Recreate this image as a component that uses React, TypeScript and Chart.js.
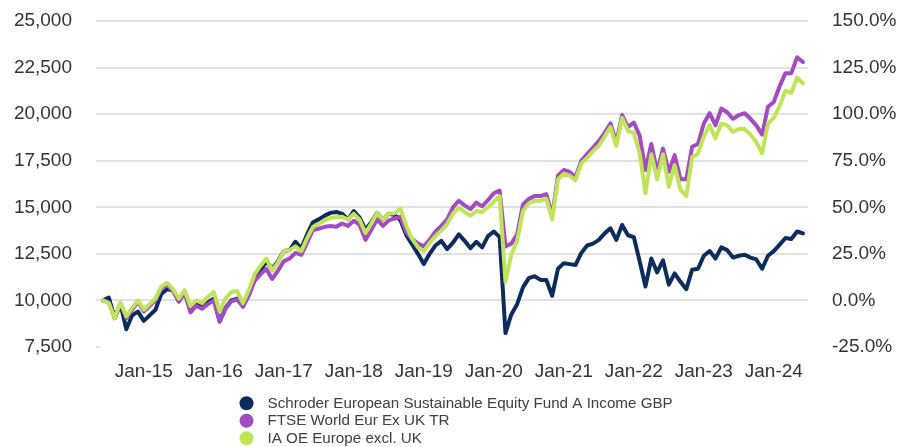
import React, { useEffect, useRef } from "react";
import { Chart, registerables } from "chart.js";

Chart.register(...registerables);

// Month-start labels, Jun-14 .. Jun-24 (value at 1st of month)
const START_YEAR = 2014;
const START_MONTH = 5; // June (0-based)
const MONTH_NAMES = ["Jan", "Feb", "Mar", "Apr", "May", "Jun", "Jul", "Aug", "Sep", "Oct", "Nov", "Dec"];

const tickLabels = ["Jan-15", "Jan-16", "Jan-17", "Jan-18", "Jan-19", "Jan-20", "Jan-21", "Jan-22", "Jan-23", "Jan-24"];

const seriesNames = [
  "Schroder European Sustainable Equity Fund A Income GBP",
  "FTSE World Eur Ex UK TR",
  "IA OE Europe excl. UK",
];

const fundValues = [
  10000, 10150, 9050, 9800, 8450, 9200, 9400, 8900, 9200, 9500,
  10350, 10600, 10550, 9950, 10450, 9500, 9800, 9650, 9900, 10100,
  8870, 9600, 10000, 10100, 9700, 10300, 11150, 11600, 12100, 11700,
  12100, 12650, 12700, 13150, 12800, 13550, 14200, 14350, 14550, 14700,
  14750, 14650, 14350, 14800, 14450, 13800, 14200, 14700, 14350, 14650,
  14580, 14300, 13500, 13000, 12500, 11950, 12500, 12950, 13200, 12750,
  13100, 13550, 13200, 12800, 13150, 12850, 13450, 13700, 13400, 8250,
  9250, 9800, 10700, 11200, 11300, 11100, 11100, 10250, 11700, 12000,
  11950, 11900, 12550, 12950, 13050, 13250, 13600, 13870, 13250, 14050,
  13500, 13400, 12100, 10750, 12250, 11500, 12150, 10850, 11450, 11000,
  10600, 11650, 11700, 12400, 12650, 12250, 12850, 12700, 12300, 12400,
  12450, 12300, 12200, 11700, 12400, 12650, 13000, 13350, 13300, 13700,
  13600,
];

const indexValues = [
  10000, 9900, 9050, 9850, 9050, 9500, 9950, 9400, 9700, 10000,
  10650, 10850, 10500, 9950, 10400, 9350, 9700, 9550, 9800, 10000,
  8870, 9550, 9950, 10050, 9660, 10270, 11050, 11400, 11700, 11150,
  11600, 12100, 12250, 12550, 12450, 13100, 13780, 13850, 13950, 14000,
  13950, 14130, 14000, 14280, 14050, 13250, 13800, 14350, 14000, 14300,
  14400, 14490, 13650, 13300, 13050, 12900, 13250, 13700, 14000, 14350,
  15000, 15350, 15100, 14900, 15250, 15050, 15380, 15750, 15900, 12900,
  13050, 13550, 15150, 15450, 15600, 15600, 15700, 14550, 16700, 17000,
  16900, 16600, 17500, 17850, 18200, 18550, 19000, 19500, 18500, 19950,
  19300, 19550, 18850, 17000, 18400, 16900, 18150, 16900, 17800, 16500,
  16500, 18250, 18400, 19500, 20050, 19400, 20300, 20100, 19750, 19950,
  20050, 19750, 19400, 18900, 20400, 20650, 21500, 22200, 22200, 23050,
  22800,
];

const sectorValues = [
  10000, 9850, 9050, 9900, 9150, 9600, 10000, 9500, 9800, 10100,
  10740, 10950, 10600, 10100, 10550, 9700, 10000, 9850, 10200, 10450,
  9400, 10100, 10450, 10500, 9850, 10560, 11400, 11850, 12250, 11600,
  12050, 12650, 12700, 12900, 12650, 13350, 13950, 14100, 14300, 14430,
  14480, 14490, 14350, 14650, 14330, 13620, 14130, 14700, 14350, 14650,
  14680, 14920, 14000, 13300, 12850, 12650, 13080, 13450, 13750, 14100,
  14650, 14980, 14750, 14550, 14800, 14750, 15000, 15300, 15600, 11000,
  12450, 13200, 14800, 15200, 15350, 15350, 15450, 14350, 16500, 16800,
  16700, 16450, 17350, 17650, 18000, 18300, 18800, 19300, 18300, 19800,
  19100, 19000, 17900, 15750, 17850, 16500, 17850, 16100, 17250, 15950,
  15600, 17700, 17880, 18800, 19400, 18700, 19500, 19400, 19050, 19200,
  19200, 18900, 18500, 17900, 19500, 19800, 20450, 21250, 21150, 21950,
  21650,
];

const leftTicks = [7500, 10000, 12500, 15000, 17500, 20000, 22500, 25000];
const rightTicks = [-25, 0, 25, 50, 75, 100, 125, 150];

const colors = ["#0b2c5c", "#a34bc1", "#c0e458"];

function monthLabel(i: number): string {
  const m = (START_MONTH + i) % 12;
  const y = START_YEAR + Math.floor((START_MONTH + i) / 12);
  return MONTH_NAMES[m] + "-" + String(y).slice(2);
}

const FONT = "'Liberation Sans', Arial, Helvetica, sans-serif";

const fitBox = (size: { width?: number; height?: number }) => (scale: any) => {
  scale.paddingTop = 0;
  scale.paddingBottom = 0;
  scale.paddingLeft = 0;
  scale.paddingRight = 0;
  if (size.width !== undefined) scale.width = size.width;
  if (size.height !== undefined) scale.height = size.height;
};

export default function App() {
  const ref = useRef<HTMLCanvasElement | null>(null);

  useEffect(() => {
    if (!ref.current) return;
    const n = fundValues.length;
    const labels = Array.from({ length: n }, (_, i) => monthLabel(i));
    const toPts = (arr: number[]) => arr.map((v, i) => ({ x: i, y: v }));
    const all = [fundValues, indexValues, sectorValues];

    const legendPlugin = {
      id: "stackedLegend",
      afterDraw(chart: any) {
        const ctx = chart.ctx as CanvasRenderingContext2D;
        ctx.save();
        ctx.font = `15.2px ${FONT}`;
        ctx.textBaseline = "middle";
        ctx.textAlign = "left";
        const x0 = 246.5;
        const y0 = 403.3;
        const gap = 17.5;
        seriesNames.forEach((name, i) => {
          const y = y0 + i * gap;
          ctx.beginPath();
          ctx.arc(x0, y, 7, 0, Math.PI * 2);
          ctx.fillStyle = colors[i];
          ctx.fill();
          ctx.fillStyle = "#404040";
          ctx.fillText(name, x0 + 21, y + 0.5);
        });
        ctx.restore();
      },
    };

    const chart = new Chart(ref.current, {
      type: "line",
      data: {
        datasets: all.map((arr, i) => ({
          label: seriesNames[i],
          data: toPts(arr),
          borderColor: colors[i],
          backgroundColor: colors[i],
          borderWidth: 4,
          pointRadius: 0,
          tension: 0,
          borderJoinStyle: "round" as const,
          borderCapStyle: "round" as const,
          fill: false,
          yAxisID: "y",
          xAxisID: "x",
          order: 3 - i,
        })),
      },
      options: {
        animation: false,
        responsive: false,
        maintainAspectRatio: false,
        layout: { padding: { top: 21, left: 14, right: 1, bottom: 63 } },
        plugins: {
          legend: { display: false },
          tooltip: { enabled: false },
        },
        scales: {
          x: {
            type: "linear",
            min: -0.51,
            max: 120.86,
            grid: { display: false, drawTicks: false, tickLength: 0 },
            border: { display: false },
            afterBuildTicks: (scale: any) => {
              scale.ticks = tickLabels.map((t) => ({ value: labels.indexOf(t) }));
            },
            afterFit: fitBox({ height: 37 }),
            ticks: {
              autoSkip: false,
              maxRotation: 0,
              padding: 13,
              color: "#333333",
              font: { family: FONT, size: 19 },
              callback: (v: any) => labels[Math.round(Number(v))],
            },
          },
          y: {
            type: "linear",
            position: "left",
            min: leftTicks[0],
            max: leftTicks[leftTicks.length - 1],
            afterBuildTicks: (scale: any) => {
              scale.ticks = leftTicks.map((v) => ({ value: v }));
            },
            afterFit: fitBox({ width: 86 }),
            grid: {
              color: (c: any) => (c.tick && c.tick.value === leftTicks[0] ? "rgba(0,0,0,0)" : "#e1e1e1"),
              tickColor: "#e1e1e1",
              lineWidth: 2,
              tickLength: 4,
              drawTicks: true,
            },
            border: { display: false },
            ticks: {
              padding: 24,
              color: "#333333",
              font: { family: FONT, size: 19 },
              callback: (v: any) => Number(v).toLocaleString("en-US"),
            },
          },
          y2: {
            type: "linear",
            position: "right",
            min: rightTicks[0],
            max: rightTicks[rightTicks.length - 1],
            afterBuildTicks: (scale: any) => {
              scale.ticks = rightTicks.map((v) => ({ value: v }));
            },
            afterFit: fitBox({ width: 89 }),
            grid: { drawOnChartArea: false, drawTicks: false, display: false, tickLength: 0 },
            border: { display: false },
            ticks: {
              padding: 24,
              color: "#333333",
              font: { family: FONT, size: 19 },
              callback: (v: any) => Number(v).toFixed(1) + "%",
            },
          },
        },
      },
      plugins: [legendPlugin],
    } as any);

    return () => chart.destroy();
  }, []);

  return (
    <div style={{ position: "absolute", left: 0, top: 0, width: 898, height: 447, background: "#fff" }}>
      <canvas ref={ref} width={898} height={447} style={{ display: "block" }} />
    </div>
  );
}
